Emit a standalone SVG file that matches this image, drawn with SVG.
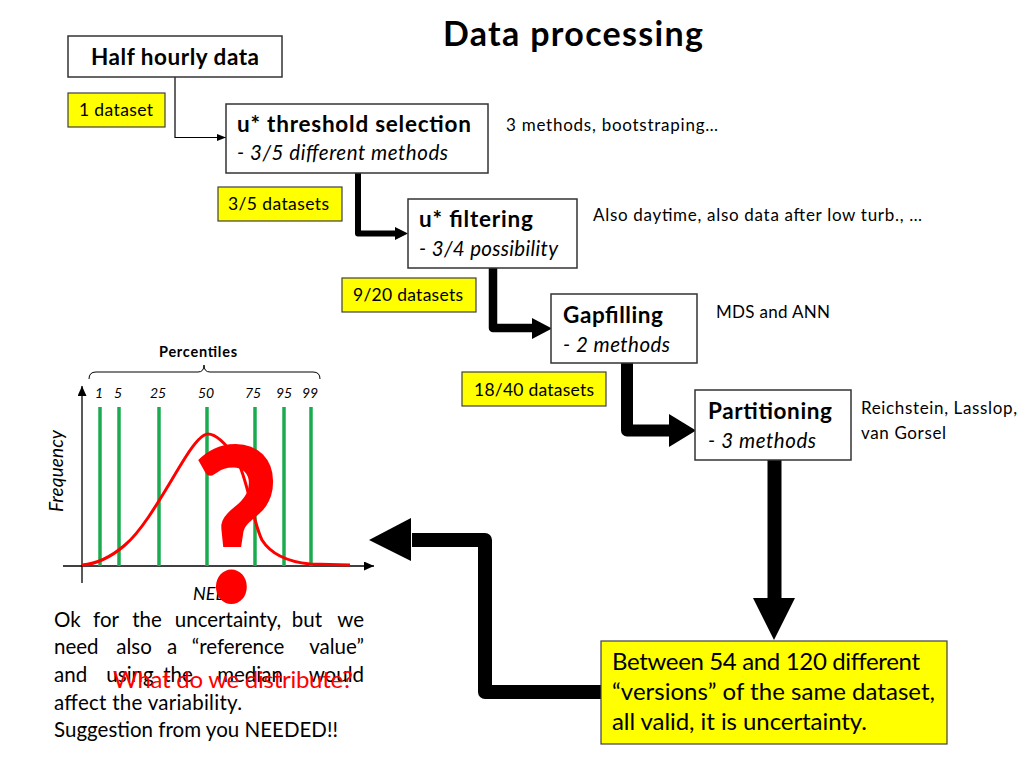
<svg xmlns="http://www.w3.org/2000/svg" width="1024" height="768" viewBox="0 0 1024 768">
<style>
text{font-family:Lato,"Liberation Sans",sans-serif;fill:#000}
.b{font-weight:bold}
.i{font-style:italic}
.node{fill:#fff;stroke:#333;stroke-width:1.5}
.yel{fill:#ffff00;stroke:#404040;stroke-width:1.2}
.ttl{font-size:22.5px;font-weight:bold}
.sub{font-size:20.5px;font-style:italic}
.lbl{font-size:17.5px}
.note{font-size:17px}
.par{font-size:20.5px}
.m{text-anchor:middle}
.e{text-anchor:end}
.res{font-size:24px}
.thick{fill:none;stroke:#000;stroke-linejoin:round}
.pl{stroke:#1aab4f;stroke-width:3.5}
.pn{font-size:14px;font-style:italic;text-anchor:middle}
</style>
<defs>
<marker id="ah" viewBox="0 0 10 10" refX="10" refY="5" markerWidth="9" markerHeight="7" markerUnits="userSpaceOnUse" orient="auto" preserveAspectRatio="none">
<path d="M0,0 L10,5 L0,10 z" fill="#000"/>
</marker>
<marker id="ax" viewBox="0 0 10 10" refX="10" refY="5" markerWidth="10" markerHeight="9" markerUnits="userSpaceOnUse" orient="auto" preserveAspectRatio="none">
<path d="M0,0 L10,5 L0,10 z" fill="#000"/>
</marker>
</defs>
<rect width="1024" height="768" fill="#fff"/>

<text x="573" y="46" class="b" font-size="34" text-anchor="middle" textLength="260">Data processing</text>

<g id="connectors">
<path d="M175,77 V137.5 H226" fill="none" stroke="#000" stroke-width="1.2" marker-end="url(#ah)"/>
<path class="thick" d="M358,173 V233.5 H396" stroke-width="6"/>
<polygon points="395,227 408,233.5 395,240" fill="#000"/>
<path class="thick" d="M493,268 V328 H533" stroke-width="8.5"/>
<polygon points="532,318 552,328.5 532,339" fill="#000"/>
<path class="thick" d="M627,363 V430.5 H670" stroke-width="12"/>
<polygon points="669,414 696,430.5 669,447" fill="#000"/>
<path class="thick" d="M774.5,460 V599" stroke-width="14"/>
<polygon points="753,598 795,598 774,640" fill="#000"/>
<path class="thick" d="M601,692 H485 V540 H412" stroke-width="14"/>
<polygon points="411,518 369,540 411,561" fill="#000"/>
</g>

<g id="half-hourly">
<rect class="node" x="68" y="36" width="214" height="41"/>
<text x="175" y="65" class="ttl" font-size="21" text-anchor="middle" textLength="168">Half hourly data</text>
</g>
<g id="ds1">
<rect class="yel" x="68" y="93" width="97" height="34"/>
<text x="79" y="116" class="lbl" textLength="74">1 dataset</text>
</g>
<g id="threshold">
<rect class="node" x="226" y="104" width="262" height="69"/>
<text x="237" y="132" class="ttl" textLength="234">u* threshold selection</text>
<text x="237" y="160" class="sub" textLength="211">- 3/5 different methods</text>
</g>
<text x="506" y="131" class="note" textLength="212">3 methods, bootstraping…</text>
<g id="ds35">
<rect class="yel" x="218" y="187" width="124" height="34"/>
<text x="228" y="210" class="lbl" textLength="101">3/5 datasets</text>
</g>
<g id="filtering">
<rect class="node" x="408" y="199" width="169" height="69"/>
<text x="419" y="227" class="ttl" textLength="114">u* filtering</text>
<text x="419" y="256" class="sub" textLength="139">- 3/4 possibility</text>
</g>
<text x="593" y="221" class="note" textLength="329">Also daytime, also data after low turb., …</text>
<g id="ds920">
<rect class="yel" x="342" y="278" width="134" height="34"/>
<text x="353" y="301" class="lbl" textLength="110">9/20 datasets</text>
</g>
<g id="gapfilling">
<rect class="node" x="551" y="294" width="146" height="69"/>
<text x="563" y="323" class="ttl" textLength="100">Gapfilling</text>
<text x="563" y="352" class="sub" textLength="107">- 2 methods</text>
</g>
<text x="716" y="318" class="note" textLength="114">MDS and ANN</text>
<g id="ds1840">
<rect class="yel" x="462" y="372" width="144" height="34"/>
<text x="474" y="396" class="lbl" textLength="120">18/40 datasets</text>
</g>
<g id="partitioning">
<rect class="node" x="695" y="390" width="156" height="70"/>
<text x="708" y="419" class="ttl" textLength="124">Partitioning</text>
<text x="708" y="448" class="sub" textLength="108">- 3 methods</text>
</g>
<text x="861" y="414" class="note" textLength="156">Reichstein, Lasslop,</text>
<text x="861" y="439" class="note" textLength="85">van Gorsel</text>

<g id="result">
<rect class="yel" x="601" y="641" width="346" height="103"/>
<text x="612" y="670" class="res" textLength="308">Between 54 and 120 different</text>
<text x="612" y="700" class="res" textLength="323">“versions” of the same dataset,</text>
<text x="612" y="730" class="res" textLength="255">all valid, it is uncertainty.</text>
</g>

<g id="chart">
<text x="198" y="357" class="b" font-size="14.5" text-anchor="middle" textLength="78">Percentiles</text>
<path d="M89,379 Q89,372 96,372 H198 Q204,372 204,365 Q204,372 210,372 H313 Q320,372 320,379" fill="none" stroke="#000" stroke-width="1"/>
<line x1="82" y1="583" x2="82" y2="386" stroke="#000" stroke-width="1.3" marker-end="url(#ax)"/>
<line x1="63" y1="566" x2="374" y2="566" stroke="#000" stroke-width="1.3" marker-end="url(#ax)"/>
<text x="99" y="398" class="pn">1</text>
<text x="118" y="398" class="pn">5</text>
<text x="158" y="398" class="pn">25</text>
<text x="206" y="398" class="pn">50</text>
<text x="253" y="398" class="pn">75</text>
<text x="284" y="398" class="pn">95</text>
<text x="310" y="398" class="pn">99</text>
<line class="pl" x1="100" y1="407" x2="100" y2="566"/>
<line class="pl" x1="119" y1="407" x2="119" y2="566"/>
<line class="pl" x1="159" y1="407" x2="159" y2="566"/>
<line class="pl" x1="207" y1="407" x2="207" y2="566"/>
<line class="pl" x1="255" y1="407" x2="255" y2="566"/>
<line class="pl" x1="284" y1="407" x2="284" y2="566"/>
<line class="pl" x1="311" y1="407" x2="311" y2="566"/>
<path d="M82,565 C95,564 110,558 125,545 C145,528 165,490 185,458 C195,442 202,434 208,434 C216,434 226,444 236,458 C248,478 252,520 262,540 C272,556 290,562 310,564 L350,565" fill="none" stroke="#ff0000" stroke-width="3"/>
<text transform="translate(63,471) rotate(-90)" class="i" font-size="19" text-anchor="middle" textLength="82">Frequency</text>
<text x="209" y="600" class="i" font-size="18" text-anchor="middle">NEE</text>
<text transform="translate(236,602) scale(0.88,1)" font-size="215" font-weight="900" style="fill:#ff0000" text-anchor="middle">?</text>
</g>

<g id="comment">
<text x="54" y="627" class="par">Ok</text>
<text x="106" y="627" class="par m">for</text>
<text x="147" y="627" class="par m">the</text>
<text x="228" y="627" class="par m">uncertainty,</text>
<text x="307" y="627" class="par m">but</text>
<text x="364" y="627" class="par e">we</text>
<text x="54" y="654" class="par">need</text>
<text x="134" y="654" class="par m">also</text>
<text x="172" y="654" class="par m">a</text>
<text x="238" y="654" class="par m">“reference</text>
<text x="364" y="654" class="par e">value”</text>
<text x="54" y="682" class="par">and</text>
<text x="130" y="682" class="par m">using</text>
<text x="178" y="682" class="par m">the</text>
<text x="250" y="682" class="par m">median</text>
<text x="364" y="682" class="par e">would</text>
<text x="54" y="710" class="par" textLength="188">affect the variability.</text>
<text x="54" y="737" class="par" textLength="284">Suggestion from you NEEDED!!</text>
<text x="113" y="688" font-size="24" style="fill:#ff0000" textLength="240">What do we distribute?</text>
</g>
</svg>
